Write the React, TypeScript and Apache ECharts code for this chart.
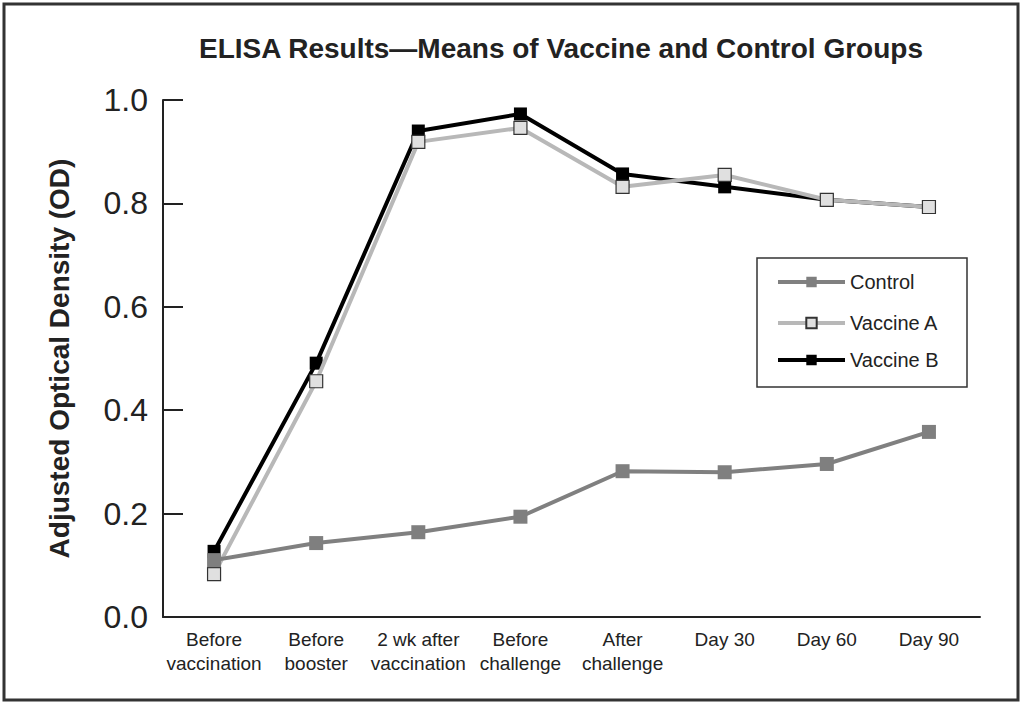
import React, { useEffect, useRef } from "react";
import * as echarts from "echarts";

const categories = [
  "Before\nvaccination",
  "Before\nbooster",
  "2 wk after\nvaccination",
  "Before\nchallenge",
  "After\nchallenge",
  "Day 30",
  "Day 60",
  "Day 90",
];
const controlValues = [0.11, 0.143, 0.164, 0.194, 0.282, 0.28, 0.296, 0.358];
const vaccineAValues = [0.083, 0.456, 0.919, 0.946, 0.832, 0.855, 0.807, 0.793];
const vaccineBValues = [0.127, 0.491, 0.94, 0.973, 0.857, 0.832, 0.807, 0.793];
const yTicks = [0, 0.2, 0.4, 0.6, 0.8, 1.0];

const FONT = "'Liberation Sans Narrow', 'Liberation Sans', Arial, sans-serif";

export default function App() {
  const ref = useRef<HTMLDivElement>(null);
  useEffect(() => {
    if (!ref.current) return;
    const chart = echarts.init(ref.current, undefined, { renderer: "svg" });
    const legendItem = (name: string, top: number) => ({
      data: [name],
      left: 776,
      top,
      padding: 0,
      itemWidth: 67,
      itemHeight: 13,
      lineStyle: { width: "inherit" },
      textStyle: { fontFamily: FONT, fontSize: 20, color: "#222" },
      selectedMode: false,
    });
    chart.setOption({
      animation: false,
      backgroundColor: "#fff",
      title: {
        text: "ELISA Results\u2014Means of Vaccine and Control Groups",
        left: 194,
        top: 29,
        textStyle: { fontFamily: FONT, fontSize: 28, fontWeight: "bold", color: "#222" },
      },
      legend: [
        legendItem("Control", 272),
        legendItem("Vaccine A", 313),
        legendItem("Vaccine B", 350),
      ],
      grid: { left: 163, right: 42, top: 100, bottom: 86, containLabel: false },
      xAxis: {
        type: "category",
        data: categories,
        boundaryGap: true,
        axisLine: { lineStyle: { color: "#222", width: 2 } },
        axisTick: { inside: true, length: 12, lineStyle: { color: "#222", width: 2 } },
        axisLabel: {
          fontFamily: FONT,
          fontSize: 19,
          lineHeight: 24,
          color: "#222",
          margin: 10,
          interval: 0,
        },
      },
      yAxis: {
        type: "value",
        min: 0,
        max: 1,
        interval: 0.2,
        name: "Adjusted Optical Density (OD)",
        nameLocation: "middle",
        nameRotate: 90,
        nameGap: 90,
        nameTextStyle: { fontFamily: FONT, fontSize: 28, fontWeight: "bold", color: "#222" },
        splitLine: { show: false },
        axisLine: { show: true, lineStyle: { color: "#222", width: 2 } },
        axisTick: { show: true, inside: true, length: 20, lineStyle: { color: "#222", width: 2 } },
        axisLabel: {
          fontFamily: FONT,
          fontSize: 32,
          color: "#222",
          margin: 15,
          formatter: (v: number) => (yTicks.some((t) => Math.abs(t - v) < 1e-9) ? v.toFixed(1) : ""),
        },
      },
      graphic: [
        {
          type: "rect",
          shape: { x: 4, y: 4, width: 1014, height: 696 },
          style: { fill: "none", stroke: "#333", lineWidth: 3 },
          silent: true,
        },
        {
          type: "rect",
          shape: { x: 757, y: 258, width: 210, height: 129 },
          style: { fill: "#fff", stroke: "#333", lineWidth: 1.5 },
          silent: true,
          z: -1,
        },
      ],
      series: [
        {
          name: "Vaccine B",
          type: "line",
          data: vaccineBValues,
          symbol: "rect",
          symbolSize: 13,
          lineStyle: { color: "#000", width: 4 },
          itemStyle: { color: "#000", borderColor: "#000", borderWidth: 0 },
          z: 2,
        },
        {
          name: "Vaccine A",
          type: "line",
          data: vaccineAValues,
          symbol: "rect",
          symbolSize: 13,
          lineStyle: { color: "#b8b8b8", width: 4 },
          itemStyle: { color: "#e0e0e0", borderColor: "#333", borderWidth: 1.2 },
          z: 3,
        },
        {
          name: "Control",
          type: "line",
          data: controlValues,
          symbol: "rect",
          symbolSize: 14,
          lineStyle: { color: "#808080", width: 4 },
          itemStyle: { color: "#7f7f7f", borderWidth: 0 },
          z: 4,
        },
      ],
    });
    return () => chart.dispose();
  }, []);
  return (
    <div
      ref={ref}
      style={{ position: "fixed", left: 0, top: 0, width: 1022, height: 703, background: "#fff" }}
    />
  );
}
